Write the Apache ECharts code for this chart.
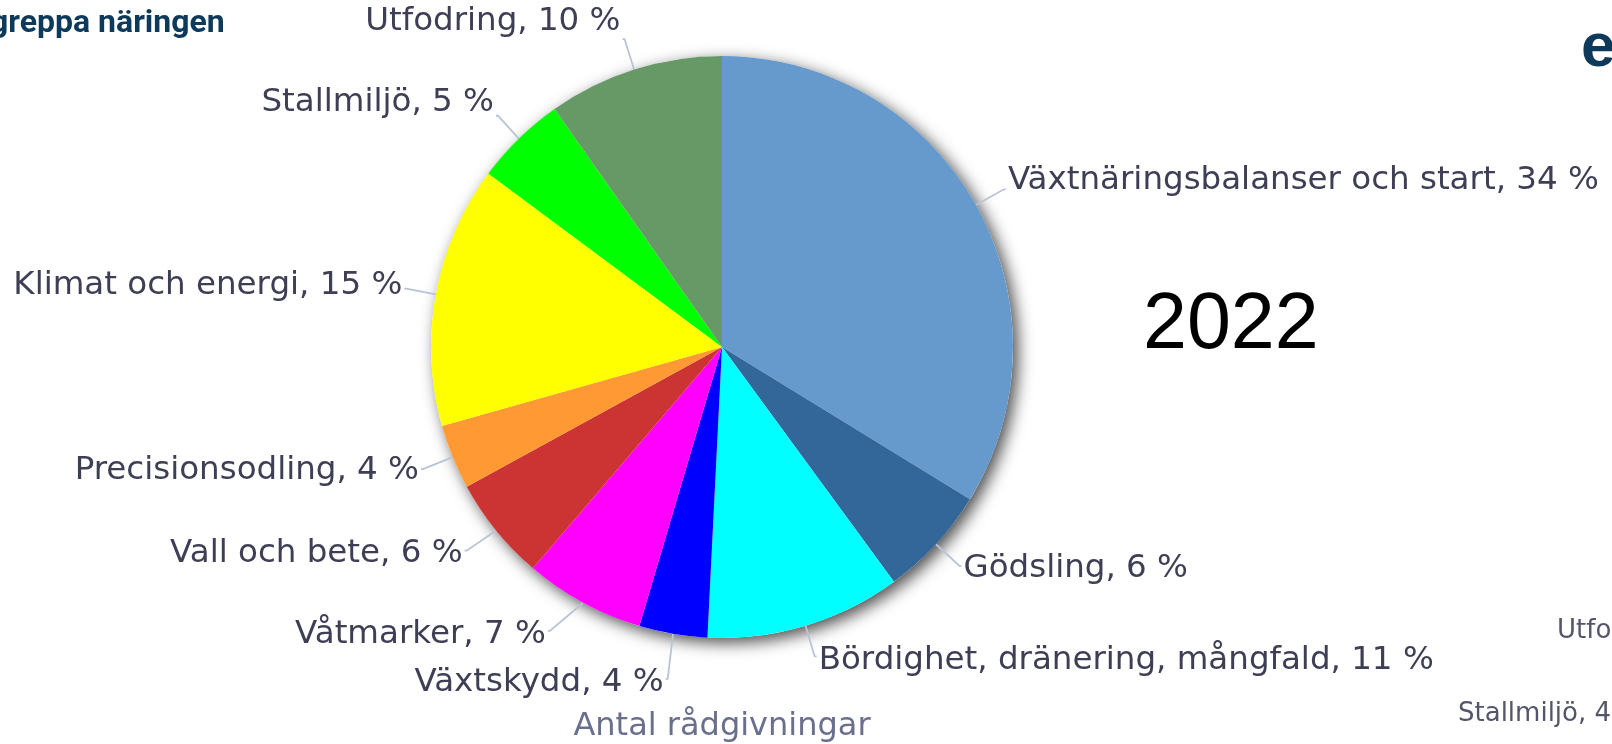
<!DOCTYPE html>
<html>
<head>
<meta charset="utf-8">
<title>Antal rådgivningar 2022</title>
<script src="https://cdn.jsdelivr.net/npm/echarts@6/dist/echarts.min.js"></script>
<style>
  html, body { margin: 0; padding: 0; background: #fff; }
  #chart { width: 1612px; height: 744px; }
</style>
</head>
<body>
<div id="chart"></div>
<script>
// andel rådgivningar per område (%), avläst medurs från kl. 12
const categories = [
  'Växtnäringsbalanser och start',
  'Gödsling',
  'Bördighet, dränering, mångfald',
  'Växtskydd',
  'Våtmarker',
  'Vall och bete',
  'Precisionsodling',
  'Klimat och energi',
  'Stallmiljö',
  'Utfodring'
]
const shares = [33.9, 6.2, 10.9, 3.8, 6.7, 5.8, 3.6, 14.6, 5.1, 9.8]
const sliceColors = ['#6699CC', '#336699', '#00FFFF', '#0000FF', '#FF00FF',
  '#CC3333', '#FF9933', '#FFFF00', '#00FF00', '#669966']

const chart = echarts.init(document.getElementById('chart'), null, { renderer: 'canvas' })

const labelFont = 'DejaVu Sans'
const center = [722, 347]
const radius = 291

chart.setOption({
  backgroundColor: '#fff',
  animation: false,
  title: {
    text: 'Antal rådgivningar',
    left: 717,
    textAlign: 'center',
    top: 706,
    textStyle: { fontFamily: labelFont, fontWeight: 'normal', fontSize: 32, color: '#6b6f8e' }
  },
  graphic: [
    { type: 'text', left: -10, top: 8, style: { text: 'greppa näringen', font: 'bold 32px Roboto', fill: '#0d3a5a' } },
    { type: 'text', left: 1581, top: 18, style: { text: 'e', font: 'bold 62px "Liberation Sans"', fill: '#0d3a5a' } },
    { type: 'text', left: 1143, top: 287, style: { text: '2022', font: '79px "Liberation Sans"', fill: '#000' } },
    { type: 'text', left: 1557, top: 618, style: { text: 'Utfodring', font: '26px "DejaVu Sans"', fill: '#55556a' } },
    { type: 'text', left: 1458, top: 701, style: { text: 'Stallmiljö, 4 %', font: '26px "DejaVu Sans"', fill: '#55556a' } }
  ],
  series: [
    {
      // skugga bakom tårtan
      type: 'pie',
      silent: true,
      z: 1,
      center: center,
      radius: radius,
      label: { show: false },
      labelLine: { show: false },
      itemStyle: {
        color: '#fff',
        shadowBlur: 16,
        shadowOffsetX: 5,
        shadowOffsetY: 5,
        shadowColor: 'rgba(0,0,0,0.7)'
      },
      data: [{ value: 1 }]
    },
    {
      name: 'Antal rådgivningar',
      type: 'pie',
      z: 2,
      center: center,
      radius: radius,
      startAngle: 90,
      clockwise: true,
      label: {
        show: true,
        fontFamily: labelFont,
        fontSize: 32.5,
        lineHeight: 46,
        color: '#3e3e55',
        overflow: 'none',
        distanceToLabelLine: 2,
        formatter: p => p.name + ', ' + Math.round(p.value) + ' %'
      },
      labelLine: {
        show: true,
        length: 32,
        length2: 2,
        lineStyle: { color: '#b8c3d6', width: 1.8 }
      },
      // texten hamnar lite längre ut från tårtan än linjens ände
      labelLayout: function (params) {
        const r = params.labelRect
        const k = (r.y + r.height / 2 - center[1]) / (radius + 32)
        return { dy: k < 0 ? k * 18 : k * 4 }
      },
      data: categories.map((name, i) => ({
        name: name,
        value: shares[i],
        itemStyle: { color: sliceColors[i] }
      }))
    }
  ]
})
</script>
</body>
</html>
